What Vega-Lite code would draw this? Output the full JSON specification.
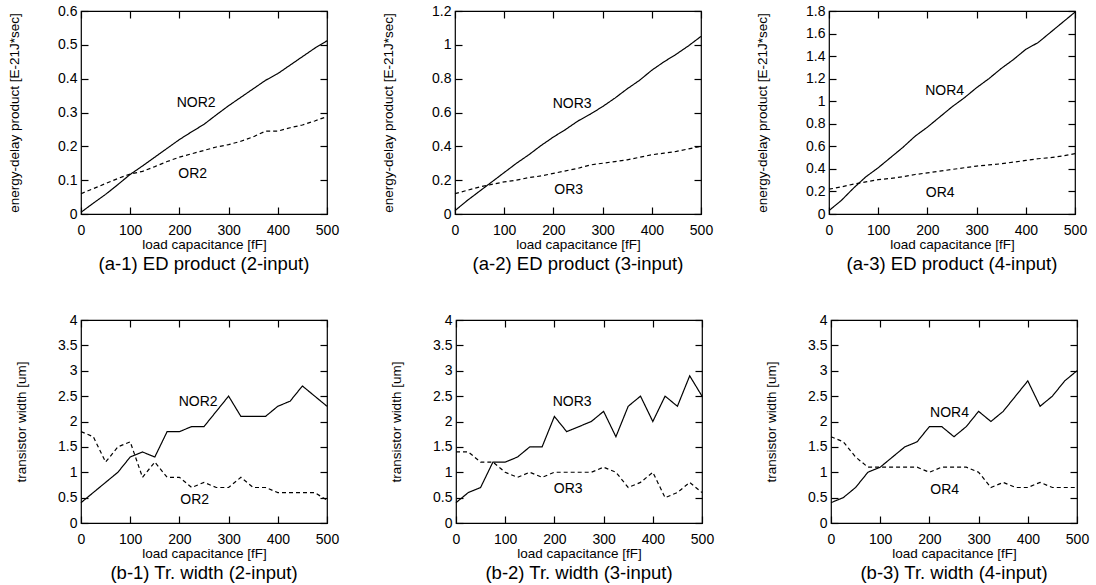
{
"$schema": "https://vega.github.io/schema/vega-lite/v6.json",
"padding": {"left": 6, "top": 3, "right": 0, "bottom": 0},
"background": "white",
"datasets": {
"series": [
{"p":"a1","t":"NOR","c":0,"v":0.005},{"p":"a1","t":"NOR","c":25,"v":0.032},{"p":"a1","t":"NOR","c":50,"v":0.058},{"p":"a1","t":"NOR","c":75,"v":0.087},{"p":"a1","t":"NOR","c":100,"v":0.117},{"p":"a1","t":"NOR","c":125,"v":0.142},{"p":"a1","t":"NOR","c":150,"v":0.168},{"p":"a1","t":"NOR","c":175,"v":0.194},{"p":"a1","t":"NOR","c":200,"v":0.22},{"p":"a1","t":"NOR","c":225,"v":0.243},{"p":"a1","t":"NOR","c":250,"v":0.265},{"p":"a1","t":"NOR","c":275,"v":0.293},{"p":"a1","t":"NOR","c":300,"v":0.32},{"p":"a1","t":"NOR","c":325,"v":0.345},{"p":"a1","t":"NOR","c":350,"v":0.37},{"p":"a1","t":"NOR","c":375,"v":0.395},{"p":"a1","t":"NOR","c":400,"v":0.415},{"p":"a1","t":"NOR","c":425,"v":0.44},{"p":"a1","t":"NOR","c":450,"v":0.465},{"p":"a1","t":"NOR","c":475,"v":0.49},{"p":"a1","t":"NOR","c":500,"v":0.512},
{"p":"a1","t":"OR","c":0,"v":0.06},{"p":"a1","t":"OR","c":25,"v":0.075},{"p":"a1","t":"OR","c":50,"v":0.09},{"p":"a1","t":"OR","c":75,"v":0.105},{"p":"a1","t":"OR","c":100,"v":0.118},{"p":"a1","t":"OR","c":125,"v":0.126},{"p":"a1","t":"OR","c":150,"v":0.14},{"p":"a1","t":"OR","c":175,"v":0.155},{"p":"a1","t":"OR","c":200,"v":0.168},{"p":"a1","t":"OR","c":225,"v":0.178},{"p":"a1","t":"OR","c":250,"v":0.188},{"p":"a1","t":"OR","c":275,"v":0.198},{"p":"a1","t":"OR","c":300,"v":0.205},{"p":"a1","t":"OR","c":325,"v":0.215},{"p":"a1","t":"OR","c":350,"v":0.228},{"p":"a1","t":"OR","c":375,"v":0.245},{"p":"a1","t":"OR","c":400,"v":0.245},{"p":"a1","t":"OR","c":425,"v":0.255},{"p":"a1","t":"OR","c":450,"v":0.263},{"p":"a1","t":"OR","c":475,"v":0.275},{"p":"a1","t":"OR","c":500,"v":0.288},
{"p":"a2","t":"NOR","c":0,"v":0.02},{"p":"a2","t":"NOR","c":25,"v":0.08},{"p":"a2","t":"NOR","c":50,"v":0.135},{"p":"a2","t":"NOR","c":75,"v":0.19},{"p":"a2","t":"NOR","c":100,"v":0.245},{"p":"a2","t":"NOR","c":125,"v":0.3},{"p":"a2","t":"NOR","c":150,"v":0.35},{"p":"a2","t":"NOR","c":175,"v":0.405},{"p":"a2","t":"NOR","c":200,"v":0.455},{"p":"a2","t":"NOR","c":225,"v":0.5},{"p":"a2","t":"NOR","c":250,"v":0.55},{"p":"a2","t":"NOR","c":275,"v":0.59},{"p":"a2","t":"NOR","c":300,"v":0.635},{"p":"a2","t":"NOR","c":325,"v":0.685},{"p":"a2","t":"NOR","c":350,"v":0.74},{"p":"a2","t":"NOR","c":375,"v":0.79},{"p":"a2","t":"NOR","c":400,"v":0.85},{"p":"a2","t":"NOR","c":425,"v":0.9},{"p":"a2","t":"NOR","c":450,"v":0.945},{"p":"a2","t":"NOR","c":475,"v":0.995},{"p":"a2","t":"NOR","c":500,"v":1.05},
{"p":"a2","t":"OR","c":0,"v":0.12},{"p":"a2","t":"OR","c":25,"v":0.14},{"p":"a2","t":"OR","c":50,"v":0.16},{"p":"a2","t":"OR","c":75,"v":0.175},{"p":"a2","t":"OR","c":100,"v":0.19},{"p":"a2","t":"OR","c":125,"v":0.2},{"p":"a2","t":"OR","c":150,"v":0.215},{"p":"a2","t":"OR","c":175,"v":0.225},{"p":"a2","t":"OR","c":200,"v":0.24},{"p":"a2","t":"OR","c":225,"v":0.255},{"p":"a2","t":"OR","c":250,"v":0.27},{"p":"a2","t":"OR","c":275,"v":0.29},{"p":"a2","t":"OR","c":300,"v":0.3},{"p":"a2","t":"OR","c":325,"v":0.31},{"p":"a2","t":"OR","c":350,"v":0.32},{"p":"a2","t":"OR","c":375,"v":0.335},{"p":"a2","t":"OR","c":400,"v":0.35},{"p":"a2","t":"OR","c":425,"v":0.36},{"p":"a2","t":"OR","c":450,"v":0.37},{"p":"a2","t":"OR","c":475,"v":0.385},{"p":"a2","t":"OR","c":500,"v":0.4},
{"p":"a3","t":"NOR","c":0,"v":0.03},{"p":"a3","t":"NOR","c":25,"v":0.12},{"p":"a3","t":"NOR","c":50,"v":0.23},{"p":"a3","t":"NOR","c":75,"v":0.33},{"p":"a3","t":"NOR","c":100,"v":0.41},{"p":"a3","t":"NOR","c":125,"v":0.5},{"p":"a3","t":"NOR","c":150,"v":0.59},{"p":"a3","t":"NOR","c":175,"v":0.69},{"p":"a3","t":"NOR","c":200,"v":0.77},{"p":"a3","t":"NOR","c":225,"v":0.86},{"p":"a3","t":"NOR","c":250,"v":0.95},{"p":"a3","t":"NOR","c":275,"v":1.03},{"p":"a3","t":"NOR","c":300,"v":1.12},{"p":"a3","t":"NOR","c":325,"v":1.2},{"p":"a3","t":"NOR","c":350,"v":1.29},{"p":"a3","t":"NOR","c":375,"v":1.37},{"p":"a3","t":"NOR","c":400,"v":1.46},{"p":"a3","t":"NOR","c":425,"v":1.52},{"p":"a3","t":"NOR","c":450,"v":1.61},{"p":"a3","t":"NOR","c":475,"v":1.7},{"p":"a3","t":"NOR","c":500,"v":1.79},
{"p":"a3","t":"OR","c":0,"v":0.22},{"p":"a3","t":"OR","c":25,"v":0.24},{"p":"a3","t":"OR","c":50,"v":0.265},{"p":"a3","t":"OR","c":75,"v":0.285},{"p":"a3","t":"OR","c":100,"v":0.305},{"p":"a3","t":"OR","c":125,"v":0.315},{"p":"a3","t":"OR","c":150,"v":0.33},{"p":"a3","t":"OR","c":175,"v":0.35},{"p":"a3","t":"OR","c":200,"v":0.365},{"p":"a3","t":"OR","c":225,"v":0.38},{"p":"a3","t":"OR","c":250,"v":0.395},{"p":"a3","t":"OR","c":275,"v":0.41},{"p":"a3","t":"OR","c":300,"v":0.425},{"p":"a3","t":"OR","c":325,"v":0.435},{"p":"a3","t":"OR","c":350,"v":0.445},{"p":"a3","t":"OR","c":375,"v":0.46},{"p":"a3","t":"OR","c":400,"v":0.475},{"p":"a3","t":"OR","c":425,"v":0.49},{"p":"a3","t":"OR","c":450,"v":0.5},{"p":"a3","t":"OR","c":475,"v":0.515},{"p":"a3","t":"OR","c":500,"v":0.535},
{"p":"b1","t":"NOR","c":0,"v":0.4},{"p":"b1","t":"NOR","c":25,"v":0.6},{"p":"b1","t":"NOR","c":50,"v":0.8},{"p":"b1","t":"NOR","c":75,"v":1.0},{"p":"b1","t":"NOR","c":100,"v":1.3},{"p":"b1","t":"NOR","c":125,"v":1.4},{"p":"b1","t":"NOR","c":150,"v":1.3},{"p":"b1","t":"NOR","c":175,"v":1.8},{"p":"b1","t":"NOR","c":200,"v":1.8},{"p":"b1","t":"NOR","c":225,"v":1.9},{"p":"b1","t":"NOR","c":250,"v":1.9},{"p":"b1","t":"NOR","c":275,"v":2.2},{"p":"b1","t":"NOR","c":300,"v":2.5},{"p":"b1","t":"NOR","c":325,"v":2.1},{"p":"b1","t":"NOR","c":350,"v":2.1},{"p":"b1","t":"NOR","c":375,"v":2.1},{"p":"b1","t":"NOR","c":400,"v":2.3},{"p":"b1","t":"NOR","c":425,"v":2.4},{"p":"b1","t":"NOR","c":450,"v":2.7},{"p":"b1","t":"NOR","c":475,"v":2.5},{"p":"b1","t":"NOR","c":500,"v":2.3},
{"p":"b1","t":"OR","c":0,"v":1.8},{"p":"b1","t":"OR","c":25,"v":1.7},{"p":"b1","t":"OR","c":50,"v":1.2},{"p":"b1","t":"OR","c":75,"v":1.5},{"p":"b1","t":"OR","c":100,"v":1.6},{"p":"b1","t":"OR","c":125,"v":0.9},{"p":"b1","t":"OR","c":150,"v":1.2},{"p":"b1","t":"OR","c":175,"v":0.9},{"p":"b1","t":"OR","c":200,"v":0.9},{"p":"b1","t":"OR","c":225,"v":0.7},{"p":"b1","t":"OR","c":250,"v":0.8},{"p":"b1","t":"OR","c":275,"v":0.7},{"p":"b1","t":"OR","c":300,"v":0.7},{"p":"b1","t":"OR","c":325,"v":0.9},{"p":"b1","t":"OR","c":350,"v":0.7},{"p":"b1","t":"OR","c":375,"v":0.7},{"p":"b1","t":"OR","c":400,"v":0.6},{"p":"b1","t":"OR","c":425,"v":0.6},{"p":"b1","t":"OR","c":450,"v":0.6},{"p":"b1","t":"OR","c":475,"v":0.6},{"p":"b1","t":"OR","c":500,"v":0.45},
{"p":"b2","t":"NOR","c":0,"v":0.4},{"p":"b2","t":"NOR","c":25,"v":0.6},{"p":"b2","t":"NOR","c":50,"v":0.7},{"p":"b2","t":"NOR","c":75,"v":1.2},{"p":"b2","t":"NOR","c":100,"v":1.2},{"p":"b2","t":"NOR","c":125,"v":1.3},{"p":"b2","t":"NOR","c":150,"v":1.5},{"p":"b2","t":"NOR","c":175,"v":1.5},{"p":"b2","t":"NOR","c":200,"v":2.1},{"p":"b2","t":"NOR","c":225,"v":1.8},{"p":"b2","t":"NOR","c":250,"v":1.9},{"p":"b2","t":"NOR","c":275,"v":2.0},{"p":"b2","t":"NOR","c":300,"v":2.2},{"p":"b2","t":"NOR","c":325,"v":1.7},{"p":"b2","t":"NOR","c":350,"v":2.3},{"p":"b2","t":"NOR","c":375,"v":2.5},{"p":"b2","t":"NOR","c":400,"v":2.0},{"p":"b2","t":"NOR","c":425,"v":2.5},{"p":"b2","t":"NOR","c":450,"v":2.3},{"p":"b2","t":"NOR","c":475,"v":2.9},{"p":"b2","t":"NOR","c":500,"v":2.5},
{"p":"b2","t":"OR","c":0,"v":1.4},{"p":"b2","t":"OR","c":25,"v":1.4},{"p":"b2","t":"OR","c":50,"v":1.2},{"p":"b2","t":"OR","c":75,"v":1.2},{"p":"b2","t":"OR","c":100,"v":1.0},{"p":"b2","t":"OR","c":125,"v":0.9},{"p":"b2","t":"OR","c":150,"v":1.0},{"p":"b2","t":"OR","c":175,"v":0.9},{"p":"b2","t":"OR","c":200,"v":1.0},{"p":"b2","t":"OR","c":225,"v":1.0},{"p":"b2","t":"OR","c":250,"v":1.0},{"p":"b2","t":"OR","c":275,"v":1.0},{"p":"b2","t":"OR","c":300,"v":1.1},{"p":"b2","t":"OR","c":325,"v":1.0},{"p":"b2","t":"OR","c":350,"v":0.7},{"p":"b2","t":"OR","c":375,"v":0.8},{"p":"b2","t":"OR","c":400,"v":1.0},{"p":"b2","t":"OR","c":425,"v":0.5},{"p":"b2","t":"OR","c":450,"v":0.6},{"p":"b2","t":"OR","c":475,"v":0.8},{"p":"b2","t":"OR","c":500,"v":0.6},
{"p":"b3","t":"NOR","c":0,"v":0.4},{"p":"b3","t":"NOR","c":25,"v":0.5},{"p":"b3","t":"NOR","c":50,"v":0.7},{"p":"b3","t":"NOR","c":75,"v":1.0},{"p":"b3","t":"NOR","c":100,"v":1.1},{"p":"b3","t":"NOR","c":125,"v":1.3},{"p":"b3","t":"NOR","c":150,"v":1.5},{"p":"b3","t":"NOR","c":175,"v":1.6},{"p":"b3","t":"NOR","c":200,"v":1.9},{"p":"b3","t":"NOR","c":225,"v":1.9},{"p":"b3","t":"NOR","c":250,"v":1.7},{"p":"b3","t":"NOR","c":275,"v":1.9},{"p":"b3","t":"NOR","c":300,"v":2.2},{"p":"b3","t":"NOR","c":325,"v":2.0},{"p":"b3","t":"NOR","c":350,"v":2.2},{"p":"b3","t":"NOR","c":375,"v":2.5},{"p":"b3","t":"NOR","c":400,"v":2.8},{"p":"b3","t":"NOR","c":425,"v":2.3},{"p":"b3","t":"NOR","c":450,"v":2.5},{"p":"b3","t":"NOR","c":475,"v":2.8},{"p":"b3","t":"NOR","c":500,"v":3.0},
{"p":"b3","t":"OR","c":0,"v":1.7},{"p":"b3","t":"OR","c":25,"v":1.6},{"p":"b3","t":"OR","c":50,"v":1.3},{"p":"b3","t":"OR","c":75,"v":1.1},{"p":"b3","t":"OR","c":100,"v":1.1},{"p":"b3","t":"OR","c":125,"v":1.1},{"p":"b3","t":"OR","c":150,"v":1.1},{"p":"b3","t":"OR","c":175,"v":1.1},{"p":"b3","t":"OR","c":200,"v":1.0},{"p":"b3","t":"OR","c":225,"v":1.1},{"p":"b3","t":"OR","c":250,"v":1.1},{"p":"b3","t":"OR","c":275,"v":1.1},{"p":"b3","t":"OR","c":300,"v":1.0},{"p":"b3","t":"OR","c":325,"v":0.7},{"p":"b3","t":"OR","c":350,"v":0.8},{"p":"b3","t":"OR","c":375,"v":0.7},{"p":"b3","t":"OR","c":400,"v":0.7},{"p":"b3","t":"OR","c":425,"v":0.8},{"p":"b3","t":"OR","c":450,"v":0.7},{"p":"b3","t":"OR","c":475,"v":0.7},{"p":"b3","t":"OR","c":500,"v":0.7}
],
"labels": [
{"p":"a1","c":234,"v":0.327,"label":"NOR2"},{"p":"a1","c":227,"v":0.119,"label":"OR2"},
{"p":"a2","c":238,"v":0.652,"label":"NOR3"},{"p":"a2","c":231,"v":0.143,"label":"OR3"},
{"p":"a3","c":235,"v":1.09,"label":"NOR4"},{"p":"a3","c":226,"v":0.185,"label":"OR4"},
{"p":"b1","c":238,"v":2.38,"label":"NOR2"},{"p":"b1","c":231,"v":0.46,"label":"OR2"},
{"p":"b2","c":236,"v":2.38,"label":"NOR3"},{"p":"b2","c":228,"v":0.667,"label":"OR3"},
{"p":"b3","c":241,"v":2.17,"label":"NOR4"},{"p":"b3","c":231,"v":0.66,"label":"OR4"}
]
},
"vconcat": [
{"spacing": 40, "hconcat": [
{"width":246,"height":203,"title":"(a-1) ED product (2-input)",
 "layer":[
  {"data":{"name":"series"},"transform":[{"filter":"datum.p==='a1'"}],"mark":{"type":"line","color":"black","strokeWidth":1.2},
   "encoding":{"x":{"field":"c","type":"quantitative","scale":{"domain":[0,500]},"axis":{"orient":"bottom","values":[0,100,200,300,400,500],"title":"load capacitance [fF]"}},
   "y":{"field":"v","type":"quantitative","scale":{"domain":[0,0.6]},"axis":{"orient":"left","values":[0,0.1,0.2,0.3,0.4,0.5,0.6],"format":"~g","title":"energy-delay product [E-21J*sec]","titlePadding":36}},
   "strokeDash":{"field":"t","type":"nominal","scale":{"domain":["NOR","OR"],"range":[[1,0],[4,3]]},"legend":null}}},
  {"data":{"name":"labels"},"transform":[{"filter":"datum.p==='a1'"}],"mark":{"type":"text","color":"black"},
   "encoding":{"x":{"field":"c","type":"quantitative","axis":{"orient":"top","values":[0,100,200,300,400,500],"labels":false,"title":null}},
   "y":{"field":"v","type":"quantitative","axis":{"orient":"right","values":[0,0.1,0.2,0.3,0.4,0.5,0.6],"labels":false,"title":null}},
   "text":{"field":"label"}}}
 ],"resolve":{"axis":{"x":"independent","y":"independent"}}},
{"width":246,"height":203,"title":"(a-2) ED product (3-input)",
 "layer":[
  {"data":{"name":"series"},"transform":[{"filter":"datum.p==='a2'"}],"mark":{"type":"line","color":"black","strokeWidth":1.2},
   "encoding":{"x":{"field":"c","type":"quantitative","scale":{"domain":[0,500]},"axis":{"orient":"bottom","values":[0,100,200,300,400,500],"title":"load capacitance [fF]"}},
   "y":{"field":"v","type":"quantitative","scale":{"domain":[0,1.2]},"axis":{"orient":"left","values":[0,0.2,0.4,0.6,0.8,1,1.2],"format":"~g","title":"energy-delay product [E-21J*sec]","titlePadding":36}},
   "strokeDash":{"field":"t","type":"nominal","scale":{"domain":["NOR","OR"],"range":[[1,0],[4,3]]},"legend":null}}},
  {"data":{"name":"labels"},"transform":[{"filter":"datum.p==='a2'"}],"mark":{"type":"text","color":"black"},
   "encoding":{"x":{"field":"c","type":"quantitative","axis":{"orient":"top","values":[0,100,200,300,400,500],"labels":false,"title":null}},
   "y":{"field":"v","type":"quantitative","axis":{"orient":"right","values":[0,0.2,0.4,0.6,0.8,1,1.2],"labels":false,"title":null}},
   "text":{"field":"label"}}}
 ],"resolve":{"axis":{"x":"independent","y":"independent"}}},
{"width":246,"height":203,"title":"(a-3) ED product (4-input)",
 "layer":[
  {"data":{"name":"series"},"transform":[{"filter":"datum.p==='a3'"}],"mark":{"type":"line","color":"black","strokeWidth":1.2},
   "encoding":{"x":{"field":"c","type":"quantitative","scale":{"domain":[0,500]},"axis":{"orient":"bottom","values":[0,100,200,300,400,500],"title":"load capacitance [fF]"}},
   "y":{"field":"v","type":"quantitative","scale":{"domain":[0,1.8]},"axis":{"orient":"left","values":[0,0.2,0.4,0.6,0.8,1,1.2,1.4,1.6,1.8],"format":"~g","title":"energy-delay product [E-21J*sec]","titlePadding":36}},
   "strokeDash":{"field":"t","type":"nominal","scale":{"domain":["NOR","OR"],"range":[[1,0],[4,3]]},"legend":null}}},
  {"data":{"name":"labels"},"transform":[{"filter":"datum.p==='a3'"}],"mark":{"type":"text","color":"black"},
   "encoding":{"x":{"field":"c","type":"quantitative","axis":{"orient":"top","values":[0,100,200,300,400,500],"labels":false,"title":null}},
   "y":{"field":"v","type":"quantitative","axis":{"orient":"right","values":[0,0.2,0.4,0.6,0.8,1,1.2,1.4,1.6,1.8],"labels":false,"title":null}},
   "text":{"field":"label"}}}
 ],"resolve":{"axis":{"x":"independent","y":"independent"}}}
]},
{"spacing": 48, "hconcat": [
{"width":246,"height":203,"title":"(b-1) Tr. width (2-input)",
 "layer":[
  {"data":{"name":"series"},"transform":[{"filter":"datum.p==='b1'"}],"mark":{"type":"line","color":"black","strokeWidth":1.2},
   "encoding":{"x":{"field":"c","type":"quantitative","scale":{"domain":[0,500]},"axis":{"orient":"bottom","values":[0,100,200,300,400,500],"title":"load capacitance [fF]"}},
   "y":{"field":"v","type":"quantitative","scale":{"domain":[0,4]},"axis":{"orient":"left","values":[0,0.5,1,1.5,2,2.5,3,3.5,4],"format":"~g","title":"transistor width [um]","titlePadding":29}},
   "strokeDash":{"field":"t","type":"nominal","scale":{"domain":["NOR","OR"],"range":[[1,0],[4,3]]},"legend":null}}},
  {"data":{"name":"labels"},"transform":[{"filter":"datum.p==='b1'"}],"mark":{"type":"text","color":"black"},
   "encoding":{"x":{"field":"c","type":"quantitative","axis":{"orient":"top","values":[0,100,200,300,400,500],"labels":false,"title":null}},
   "y":{"field":"v","type":"quantitative","axis":{"orient":"right","values":[0,0.5,1,1.5,2,2.5,3,3.5,4],"labels":false,"title":null}},
   "text":{"field":"label"}}}
 ],"resolve":{"axis":{"x":"independent","y":"independent"}}},
{"width":246,"height":203,"title":"(b-2) Tr. width (3-input)",
 "layer":[
  {"data":{"name":"series"},"transform":[{"filter":"datum.p==='b2'"}],"mark":{"type":"line","color":"black","strokeWidth":1.2},
   "encoding":{"x":{"field":"c","type":"quantitative","scale":{"domain":[0,500]},"axis":{"orient":"bottom","values":[0,100,200,300,400,500],"title":"load capacitance [fF]"}},
   "y":{"field":"v","type":"quantitative","scale":{"domain":[0,4]},"axis":{"orient":"left","values":[0,0.5,1,1.5,2,2.5,3,3.5,4],"format":"~g","title":"transistor width [um]","titlePadding":29}},
   "strokeDash":{"field":"t","type":"nominal","scale":{"domain":["NOR","OR"],"range":[[1,0],[4,3]]},"legend":null}}},
  {"data":{"name":"labels"},"transform":[{"filter":"datum.p==='b2'"}],"mark":{"type":"text","color":"black"},
   "encoding":{"x":{"field":"c","type":"quantitative","axis":{"orient":"top","values":[0,100,200,300,400,500],"labels":false,"title":null}},
   "y":{"field":"v","type":"quantitative","axis":{"orient":"right","values":[0,0.5,1,1.5,2,2.5,3,3.5,4],"labels":false,"title":null}},
   "text":{"field":"label"}}}
 ],"resolve":{"axis":{"x":"independent","y":"independent"}}},
{"width":246,"height":203,"title":"(b-3) Tr. width (4-input)",
 "layer":[
  {"data":{"name":"series"},"transform":[{"filter":"datum.p==='b3'"}],"mark":{"type":"line","color":"black","strokeWidth":1.2},
   "encoding":{"x":{"field":"c","type":"quantitative","scale":{"domain":[0,500]},"axis":{"orient":"bottom","values":[0,100,200,300,400,500],"title":"load capacitance [fF]"}},
   "y":{"field":"v","type":"quantitative","scale":{"domain":[0,4]},"axis":{"orient":"left","values":[0,0.5,1,1.5,2,2.5,3,3.5,4],"format":"~g","title":"transistor width [um]","titlePadding":29}},
   "strokeDash":{"field":"t","type":"nominal","scale":{"domain":["NOR","OR"],"range":[[1,0],[4,3]]},"legend":null}}},
  {"data":{"name":"labels"},"transform":[{"filter":"datum.p==='b3'"}],"mark":{"type":"text","color":"black"},
   "encoding":{"x":{"field":"c","type":"quantitative","axis":{"orient":"top","values":[0,100,200,300,400,500],"labels":false,"title":null}},
   "y":{"field":"v","type":"quantitative","axis":{"orient":"right","values":[0,0.5,1,1.5,2,2.5,3,3.5,4],"labels":false,"title":null}},
   "text":{"field":"label"}}}
 ],"resolve":{"axis":{"x":"independent","y":"independent"}}}
]}
],
"spacing": 38,
"config": {
 "view": {"stroke": "black", "strokeWidth": 1.2},
 "axis": {"grid": false, "domain": false, "offset": -7, "tickColor": "black", "tickSize": 7, "tickWidth": 1.2, "labelColor": "black", "titleColor": "black", "labelFont": "Liberation Sans", "labelFontSize": 14, "titleFont": "Liberation Sans", "titleFontWeight": "normal", "titleFontSize": 13.5, "labelFlush": false, "labelOverlap": false},
 "axisX": {"labelPadding": 9, "titlePadding": 0},
 "axisY": {"labelPadding": 4},
 "title": {"font": "Liberation Sans", "fontSize": 18.5, "fontWeight": "normal", "color": "black", "orient": "bottom", "offset": 4},
 "text": {"font": "Liberation Sans", "fontSize": 14}
}
}
